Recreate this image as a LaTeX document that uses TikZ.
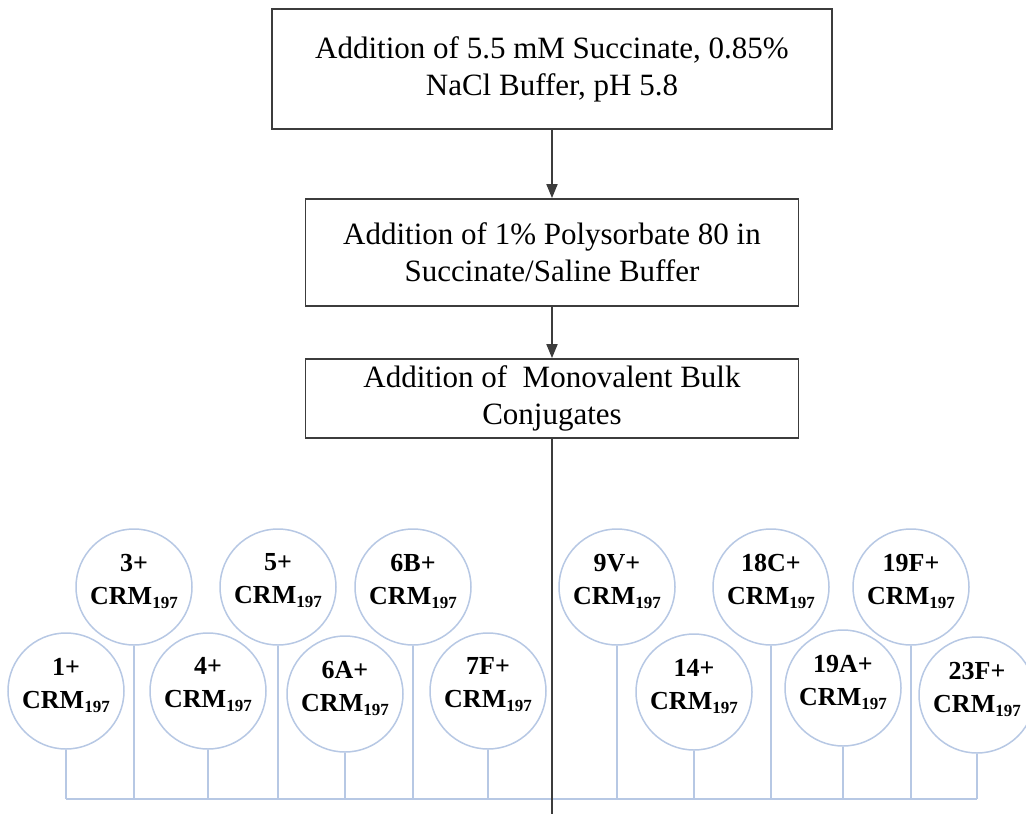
\documentclass[tikz,border=0pt]{standalone}
\usepackage{fontspec}
\setmainfont{Liberation Serif}
\usetikzlibrary{arrows.meta}
\definecolor{ringc}{RGB}{183,200,228}
\definecolor{boxline}{RGB}{60,60,60}
\newcommand{\crmsub}{CRM{\fontsize{17}{17}\selectfont\raisebox{-4pt}{197}}}
\begin{document}
\begin{tikzpicture}[x=1pt,y=-1pt,
  stepbox/.style={draw=boxline, line width=1.8pt, fill=white, align=center,
    font=\fontsize{31}{37}\selectfont, inner sep=0pt},
  flow/.style={draw=boxline, line width=1.8pt, -{Triangle[length=14pt,width=11pt]}},
  trunk/.style={draw=boxline, line width=1.8pt},
  conj/.style={circle, draw=ringc, line width=1.5pt, fill=white, minimum size=116pt, inner sep=0pt},
  lbl/.style={align=center, font=\bfseries\fontsize{26}{33}\selectfont, yshift=6pt, inner sep=0pt},
  stem/.style={draw=ringc, line width=1.5pt}
]
\useasboundingbox (0,0) rectangle (1026,814);

% process boxes
\node[stepbox, minimum width=560pt, minimum height=120pt] (b1) at (552,69)
  {Addition of 5.5 mM Succinate, 0.85\%\\NaCl Buffer, pH 5.8};
\node[stepbox, minimum width=493pt, minimum height=107pt] (b2) at (552,252.5)
  {Addition of 1\% Polysorbate 80 in\\Succinate/Saline Buffer};
\node[stepbox, minimum width=493pt, minimum height=79pt] (b3) at (552,398.5)
  {Addition of\ \ Monovalent Bulk\\Conjugates};

\draw[flow] (b1.south) -- (b2.north);
\draw[flow] (b2.south) -- (b3.north);

% conjugate circles, upper row
\node[conj, label={[lbl]center:{3+\\\crmsub}}]   (c3)   at (134,587) {};
\node[conj, label={[lbl]center:{5+\\\crmsub}}]   (c5)   at (278,587) {};
\node[conj, label={[lbl]center:{6B+\\\crmsub}}]  (c6B)  at (413,587) {};
\node[conj, label={[lbl]center:{9V+\\\crmsub}}]  (c9V)  at (617,587) {};
\node[conj, label={[lbl]center:{18C+\\\crmsub}}] (c18C) at (771,587) {};
\node[conj, label={[lbl]center:{19F+\\\crmsub}}] (c19F) at (911,587) {};
% lower row
\node[conj, label={[lbl]center:{1+\\\crmsub}}]   (c1)   at (66,691) {};
\node[conj, label={[lbl]center:{4+\\\crmsub}}]   (c4)   at (208,691) {};
\node[conj, label={[lbl]center:{6A+\\\crmsub}}]  (c6A)  at (345,694) {};
\node[conj, label={[lbl]center:{7F+\\\crmsub}}]  (c7F)  at (488,691) {};
\node[conj, label={[lbl]center:{14+\\\crmsub}}]  (c14)  at (694,692) {};
\node[conj, label={[lbl]center:{19A+\\\crmsub}}] (c19A) at (843,688) {};
\node[conj, label={[lbl]center:{23F+\\\crmsub}}] (c23F) at (977,695) {};

% collecting bus
\coordinate (bus) at (66,799);
\foreach \c in {c1,c3,c4,c5,c6A,c6B,c7F,c9V,c14,c18C,c19A,c19F,c23F}
  \draw[stem] (\c.south) -- (\c.south |- bus);
\draw[stem] (c1.south |- bus) -- (c23F.south |- bus);

% trunk from last box
\coordinate (bot) at (552,814);
\draw[trunk] (b3.south) -- (b3.south |- bot);
\end{tikzpicture}
\end{document}
